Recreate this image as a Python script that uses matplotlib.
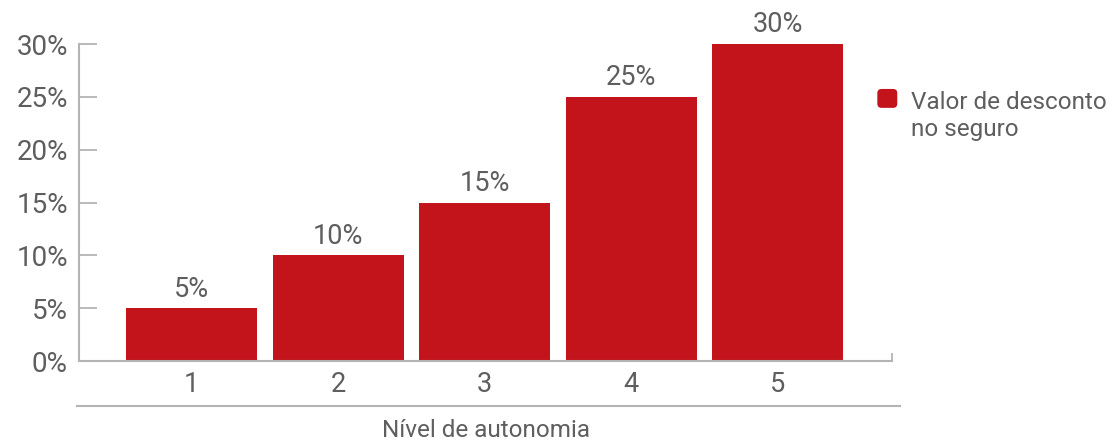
import matplotlib.pyplot as plt
from matplotlib.patches import FancyBboxPatch
from matplotlib.legend_handler import HandlerPatch

plt.rcParams['font.family'] = ['Roboto', 'DejaVu Sans']

# data
levels = [1, 2, 3, 4, 5]
discount = [5, 10, 15, 25, 30]
yticks = [0, 5, 10, 15, 20, 25, 30]
series_name = 'Valor de desconto\nno seguro'

RED = '#c3141c'
GREY = '#b4b4b4'
TXT = '#5e5e5e'


def rounded_square(legend, orig_handle, xdescent, ydescent, width, height, fontsize):
    # lift the marker so it sits next to the first line of the label
    return FancyBboxPatch((-xdescent, -ydescent + 0.75 * fontsize), width, height,
                          boxstyle='round,pad=0,rounding_size=3')


fig = plt.figure(figsize=(11.15, 4.41), dpi=100)
ax = fig.add_axes([0.0709, 0.1814, 0.7291, 0.7188])

bars = ax.bar(levels, discount, width=0.895, color=RED, label=series_name)
ax.bar_label(bars, labels=[f'{v}%' for v in discount], padding=4,
             fontsize=19.5, color=TXT)

ax.set_xlim(0.232, 5.78)
ax.set_ylim(0, 30)
ax.set_yticks(yticks)
ax.set_yticklabels([f'{v}%' for v in yticks])
ax.set_xticks(levels)
ax.set_xticks([5.78], minor=True)

for s in ['top', 'right']:
    ax.spines[s].set_visible(False)
for s in ['left', 'bottom']:
    ax.spines[s].set_color(GREY)
    ax.spines[s].set_linewidth(1.5)

ax.tick_params(axis='y', direction='in', length=13, width=1.3, color=GREY,
               labelsize=20, labelcolor=TXT, pad=8)
ax.tick_params(axis='x', which='major', length=0, labelsize=19.5,
               labelcolor=TXT, pad=7)
ax.tick_params(axis='x', which='minor', direction='in', length=6,
               width=1.3, color=GREY)

# separator line under the tick labels
ax.plot([-0.002, 1.01], [-0.142, -0.142], transform=ax.transAxes,
        color=GREY, lw=1.5, clip_on=False)
ax.set_xlabel('Nível de autonomia', fontsize=17.5, color=TXT, labelpad=15)

leg = ax.legend(handles=[bars.patches[0]], labels=[series_name],
                loc='upper left', bbox_to_anchor=(0.97, 0.883), frameon=False,
                fontsize=17.5, handlelength=0.82, handleheight=0.82,
                handletextpad=0.55, labelcolor=TXT, borderaxespad=0,
                handler_map={bars.patches[0].__class__: HandlerPatch(patch_func=rounded_square)})
for t in leg.get_texts():
    t.set_linespacing(1.25)

fig.savefig('out.png', dpi=100)
